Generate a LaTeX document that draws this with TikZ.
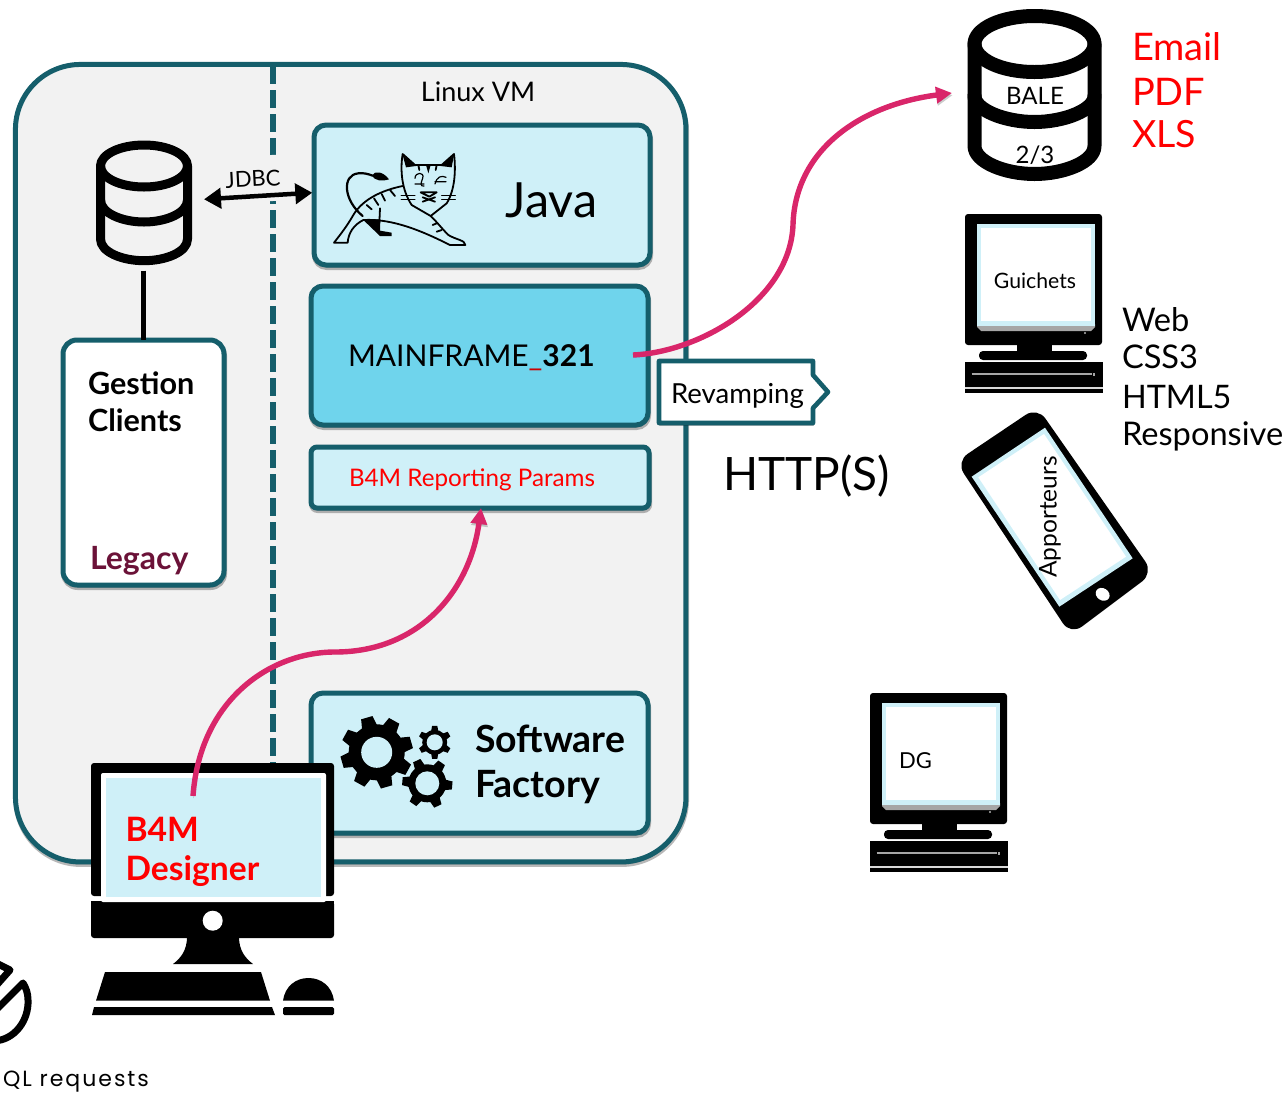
\documentclass[tikz,border=0pt]{standalone}
\usepackage{fontspec}
\setmainfont{Lato}
\newfontfamily\qlfont[LetterSpace=9]{Poppins}
\usetikzlibrary{arrows.meta,shadows,shapes.geometric}
\definecolor{tealb}{HTML}{155E6B}
\definecolor{paleb}{HTML}{CFF0F8}
\definecolor{midb}{HTML}{6FD4EC}
\definecolor{vmgray}{HTML}{F2F2F2}
\definecolor{pinkc}{HTML}{D9266A}
\definecolor{maroonc}{HTML}{6B1238}
\tikzset{
  softshadow/.style={drop shadow={shadow xshift=0.6pt,shadow yshift=-2.5pt,opacity=.28,fill=black,draw=black}},
  tealbox/.style={draw=tealb,line width=5pt,rounded corners=#1,softshadow,inner sep=0pt,outer sep=0pt},
  tealbox/.default=12pt,
  lbl/.style={inner sep=0pt,outer sep=0pt,text=black,font=\fontsize{#1}{#1}\selectfont},
  leftlbl/.style={lbl=#1,anchor=west},
  pinkarrow/.style={draw=pinkc,line width=5.4pt,-{Triangle[length=16pt,width=16pt]},
    preaction={draw=black,opacity=.2,transform canvas={xshift=.6pt,yshift=-2.2pt}}},
  dbline/.style={draw=black,line width=#1,line cap=round,line join=round},
  cross/.pic={
    \fill[black,rounded corners=3pt] (0,0) rectangle (137,131);
    \fill[gray!70] (12,110) -- (130,110) -- (130,113) -- (126,117) -- (16,117) -- (12,113) -- cycle;
    \fill[paleb] (12,10) rectangle (130,112);
    \fill[white] (16,14) rectangle (126,107);
    \fill[gray!60] (120,119) circle (1.2pt);
    \fill[black] (52,131) rectangle (87,138);
    \fill[black,rounded corners=4pt] (14,137) rectangle (122,146);
    \fill[black] (0,147.5) rectangle (138,179);
    \draw[gray!70,line width=1.2pt] (6.5,160) -- (127,160);
    \fill[gray!70] (128,158.5) rectangle (129.5,161.5);
    \draw[white!85!black,line width=1.4pt] (0,174) -- (138,174);
  },
}
\newcommand{\gearshape}[7]{% x y outer body hole teeth startangle
  \begin{scope}[shift={(#1,#2)}]
    \fill[black] (0,0) circle (#4pt);
    \foreach \k in {1,...,#6}{
      \pgfmathsetmacro{\ang}{#7+360*\k/#6}
      \fill[black,rotate=\ang] (#4*0.8,-#4*0.3) -- (#3,-#4*0.21) -- (#3,#4*0.21) -- (#4*0.8,#4*0.3) -- cycle;
    }
    \fill[paleb] (0,0) circle (#5pt);
  \end{scope}}
\begin{document}
\begin{tikzpicture}[x=1pt,y=-1pt]
\useasboundingbox (0,0) rectangle (1283,1093);
\clip (0,0) rectangle (1283,1093);

% VM container
\node[tealbox=65pt,fill=vmgray,minimum width=670.5pt,minimum height=797.5pt] (vm) at (350.7,463.2) {};
\coordinate (dashtop) at (272.7,66);
\coordinate (dashend) at (272.7,766);
\draw[tealb,line width=6pt,dash pattern=on 18pt off 6pt] (dashtop) -- (dashend);
\node[lbl=27] (linuxvm) at (478,92) {Linux VM};

% boxes
\node[tealbox,fill=paleb,minimum width=336pt,minimum height=140pt] (java) at (482,195) {};
\node[tealbox,fill=midb,minimum width=337pt,minimum height=139pt] (mainframe) at (479.5,355.5) {};
\node[tealbox=6pt,fill=paleb,minimum width=338pt,minimum height=61pt] (params) at (480,477.5) {};
\node[tealbox,fill=paleb,minimum width=337pt,minimum height=140pt] (factory) at (479.5,763) {};
\node[tealbox=14pt,fill=white,minimum width=161pt,minimum height=245pt] (gestion) at (143.5,462.5) {};

\node[lbl=48.5] (javatxt) at (551.5,200) {Java};
\node[leftlbl=30] (mftxt) at (348,358) {MAINFRAME{\color{red!80!black}\_}\textbf{321}};
\node[leftlbl=24.2,text=red] (paramstxt) at (349,480) {B4M Reporting Params};
\node[leftlbl=30.6] (g1) at (88,383) {\textbf{Gestion}};
\node[leftlbl=30.6] (g2) at (88,420) {\textbf{Clients}};
\node[leftlbl=32,text=maroonc] (legacy) at (90,561) {\textbf{Legacy}};
\node[leftlbl=37.4] (s1) at (475,739) {\textbf{Software}};
\node[leftlbl=37.6] (s2) at (475,787) {\textbf{Factory}};

% tomcat
\begin{scope}[shift={(300,110)},scale=1/3,line width=1.8pt,line join=round,line cap=round]
  \draw (308,132) -- (345,165) -- (425,165) -- (462,132) .. controls (468,180) and (465,240) .. (440,280) -- (392,318) -- (335,285) .. controls (305,240) and (300,180) .. (308,132);
  \fill (308,135) -- (348,168) -- (318,172) -- cycle;
  \fill (462,135) -- (422,168) -- (455,172) -- cycle;
  \fill (378,165) -- (392,165) -- (385,190) -- cycle;
  \draw (355,165) -- (358,180) (410,165) -- (407,180);
  \draw[line width=1.2pt] (345,205) .. controls (345,185) and (375,185) .. (368,205) .. controls (362,220) and (360,230) .. (372,228);
  \draw[line width=1.2pt] (405,222) .. controls (410,200) and (425,195) .. (438,202) (345,222) -- (372,222) (405,215) -- (438,215);
  \draw (362,247) -- (410,247) -- (388,260) -- cycle (368,262) -- (405,275) (405,262) -- (368,275);
  \draw[line width=1pt] (303,255) -- (345,255) (303,268) -- (345,268) (425,255) -- (466,255) (425,268) -- (466,268);
  \draw[line width=2.2pt] (188,318) .. controls (130,270) and (125,195) .. (175,190) .. controls (190,188) and (205,192) .. (218,197);
  \fill (215,197) .. controls (225,180) and (250,185) .. (267,208) .. controls (245,215) and (225,212) .. (215,197);
  \draw (308,228) .. controls (250,240) and (190,265) .. (160,315) .. controls (140,350) and (120,375) .. (102,398) -- (143,398) .. controls (145,370) and (160,345) .. (190,330) .. controls (280,325) and (370,365) .. (450,405) -- (496,405) .. controls (495,390) and (470,390) .. (445,375) .. controls (425,355) and (410,335) .. (392,318);
  \fill (190,330) -- (240,328) -- (240,362) -- (275,368) -- (275,378) -- (240,378) -- cycle;
  \draw (240,295) -- (238,340);
  \draw (270,240) -- (285,258) (245,252) -- (255,272) (222,265) -- (235,285) (200,285) -- (215,298) (410,340) -- (398,345) (425,360) -- (410,365);
\end{scope}

% gears
\gearshape{376.7}{752.3}{36}{28}{15.5}{8}{16}
\gearshape{434.7}{742.3}{16.5}{12.5}{8}{6}{30}
\gearshape{427.3}{783.3}{25}{19}{12}{6}{-5}

% left database
\draw[dbline=9pt] (144,166) ellipse (43.5pt and 21pt);
\draw[dbline=9pt] (100.5,166) -- (100.5,239) .. controls (100.5,252) and (122,260.7) .. (144,260.7) .. controls (166,260.7) and (187.5,252) .. (187.5,239) -- (187.5,166);
\draw[dbline=9pt] (100.5,200) .. controls (100.5,213) and (122,222) .. (144,222) .. controls (166,222) and (187.5,213) .. (187.5,200);
\coordinate (dbl) at (204,199.3);
\coordinate (dbb) at (143.3,270.7);
\draw[black,line width=5.5pt] (dbb) -- (gestion.north -| dbb);

% JDBC
\node[lbl=22,rotate=3,fill=vmgray,minimum width=56pt,minimum height=46pt] (jdbc) at (253,179) {JDBC};
\coordinate (javaw) at (312.3,192.7);
\draw[black,line width=4.5pt,{Triangle[length=17pt,width=20pt]}-{Triangle[length=17pt,width=20pt]}] (dbl) -- (javaw);

% Revamping
\node[minimum width=154pt,minimum height=62pt,inner sep=0pt,outer sep=0pt] (revbox) at (736,392) {};
\draw[draw=tealb,fill=white,line width=4.6pt,line join=round,softshadow]
  (revbox.north west) -- (revbox.north east) -- ++(0,14) -- (828,392) -- (813,408) -- (revbox.south east) -- (revbox.south west) -- cycle;
\node[leftlbl=27.6] (revtxt) at (671,396) {Revamping};

\node[leftlbl=46] (http) at (723,476) {HTTP(S)};

% B4M monitor
\fill[black,rounded corners=3pt] (91,763) rectangle (334,896);
\fill[black,rounded corners=3pt] (91,901) rectangle (334,938);
\fill[black] (91,901) rectangle (334,920);
\fill[white,rounded corners=2pt] (101,773) rectangle (326,902);
\node[fill=paleb,minimum width=215pt,minimum height=119pt,inner sep=0pt] (b4mscreen) at (213.5,837.5) {};
\fill[white] (212.7,920.7) circle (10pt);
\fill[black] (187,937) .. controls (187,950) and (181,958) .. (173,964) -- (253,964) .. controls (245,958) and (239,950) .. (239,937) -- cycle;
\fill[black] (105,972) -- (261,972) -- (270,1000.7) -- (96,1000.7) -- cycle;
\fill[black] (94,1007) -- (272,1007) -- (275,1015) -- (92,1015) -- cycle;
\fill[black] (283,1000.7) .. controls (285,986) and (296,978) .. (308.5,978) .. controls (321,978) and (332,986) .. (334,1000.7) -- cycle;
\fill[black,rounded corners=1.5pt] (283,1007) rectangle (334,1015);
\node[leftlbl=33.6,text=red] (d1) at (125.5,829) {\textbf{B4M}};
\node[leftlbl=33.6,text=red] (d2) at (125.5,871.5) {\textbf{Designer}};

% pink arrows
\coordinate (a1s) at (633,355);
\coordinate (a1e) at (952,93);
\coordinate (a2s) at (193,796);
\draw[pinkarrow] (a1s) .. controls (700,352) and (790,300) .. (793,225) .. controls (795,150) and (860,105) .. (a1e);
\draw[pinkarrow] (a2s) .. controls (200,700) and (270,652) .. (335,652) .. controls (420,652) and (470,590) .. (params.south -| 481,510);

% BALE db
\draw[dbline=14pt] (1034.5,44) ellipse (60pt and 28pt);
\draw[dbline=14pt] (974.5,44) -- (974.5,146) .. controls (974.5,162) and (1005,174) .. (1034.5,174) .. controls (1064,174) and (1094.5,162) .. (1094.5,146) -- (1094.5,44);
\draw[dbline=14pt] (974.5,96) .. controls (974.5,110) and (1005,122) .. (1034.5,122) .. controls (1064,122) and (1094.5,110) .. (1094.5,96);
\node[lbl=24] (bale) at (1035,96) {BALE};
\node[lbl=24] (two) at (1035,155) {2/3};

\node[leftlbl=38,text=red] (e1) at (1132,47) {Email};
\node[leftlbl=38,text=red] (e2) at (1132,92) {PDF};
\node[leftlbl=37.5,text=red] (e3) at (1132,134) {XLS};

% crts
\pic (guichetspc) at (965,214) {cross};
\pic (dgpc) at (870,693) {cross};
\node[lbl=21.2] (guichets) at (1035,281) {Guichets};
\node[leftlbl=22] (dg) at (899,761) {DG};

\node[leftlbl=32.6] (w1) at (1122,320) {Web};
\node[leftlbl=32.6] (w2) at (1122,357) {CSS3};
\node[leftlbl=32.4] (w3) at (1122,397) {HTML5};
\node[leftlbl=32.6] (w4) at (1122,436) {Responsive};

% phone
\begin{scope}[shift={(950,205)},scale=1/3]
  \fill[black,rounded corners=14pt] (262,606) -- (18,770) -- (362,1290) -- (610,1104) -- cycle;
  \fill[paleb] (285,668) -- (65,815) -- (328,1205) -- (548,1060) -- cycle;
  \fill[white] (282,687) -- (85,817) -- (330,1185) -- (528,1055) -- cycle;
  \fill[white,rotate around={-33:(458,1168)}] (458,1168) ellipse (22pt and 18pt);
\end{scope}
\node[lbl=24.5,rotate=90] (apporteurs) at (1050,517) {Apporteurs};

% clipped icon
\begin{scope}[line width=7pt,line cap=round,line join=round]
  \draw (-6,1041) .. controls (15,1040) and (29,1020) .. (28,1000) .. controls (28,993) and (26,988) .. (23,983) -- (-6,1012);
  \draw (-6,962) -- (10,970) -- (-6,988);
\end{scope}
\node[leftlbl=22,font=\qlfont\fontsize{22}{22}\selectfont] (ql) at (3,1081.5) {QL requests};
\end{tikzpicture}
\end{document}
